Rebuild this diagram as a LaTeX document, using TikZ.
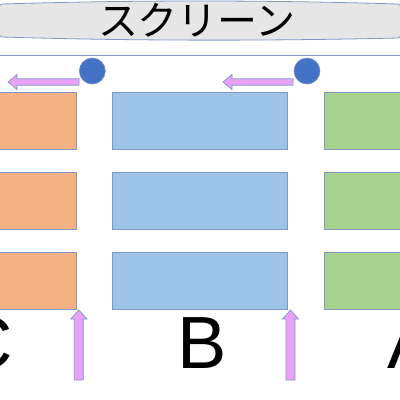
\documentclass[tikz,border=0pt]{standalone}
\usepackage{fontspec}
\setmainfont{Liberation Sans}
\newfontfamily\jpfont{Noto Sans CJK JP}
\definecolor{scrfill}{HTML}{E6E6E6}
\definecolor{edgeblue}{HTML}{7F98C8}
\definecolor{dotblue}{HTML}{4472C4}
\definecolor{arrowpink}{HTML}{E8A2F7}
\definecolor{seatorange}{HTML}{F4B183}
\definecolor{seatblue}{HTML}{9DC3E6}
\definecolor{seatgreen}{HTML}{A9D18E}
\begin{document}
\begin{tikzpicture}[x=1pt,y=-1pt,
  seat/.style={draw=edgeblue, line width=0.9pt, minimum height=57pt, inner sep=0pt, outer sep=0pt},
  dot/.style={circle, fill=dotblue, draw=dotblue!80!white, line width=0.6pt, minimum size=26pt, inner sep=0pt},
  blockarrow/.style={fill=arrowpink, draw=edgeblue, line width=0.7pt, line join=miter},
  rowlabel/.style={font=\fontsize{74}{74}\selectfont, inner sep=0pt, anchor=base}]
\useasboundingbox (0,0) rectangle (400,400);
\clip (0,0) rectangle (400,400);
% screen
\draw[fill=scrfill, draw=edgeblue, line width=0.8pt]
  (2,4) .. controls (133,0) and (267,0) .. (398,4)
  .. controls (406,5) and (406,37) .. (398,38)
  .. controls (267,41) and (133,41) .. (2,37)
  .. controls (-6,36) and (-6,5) .. (2,4) -- cycle;
\node[font=\jpfont\fontsize{40}{40}\selectfont, inner sep=0pt] (screen) at (197,20) {スクリーン};
% line
\draw[edgeblue, line width=0.9pt] (0,55) -- (400,55);
% seats
\foreach \r/\y in {1/120.5, 2/200.5, 3/280.5}{
  \node[seat, fill=seatorange, minimum width=96pt] (c\r) at (28.5,\y) {};
  \node[seat, fill=seatblue, minimum width=175.5pt] (b\r) at (200,\y) {};
  \node[seat, fill=seatgreen, minimum width=96pt] (a\r) at (372,\y) {};
}
% dots
\node[dot] (p1) at (92.3,71) {};
\node[dot] (p2) at (307,71) {};
% left arrows
\draw[blockarrow] (79,78.8) -- (17,78.8) -- (17,74.5) -- (8,82) -- (17,89.5) -- (17,85.2) -- (79,85.2) -- cycle;
\draw[blockarrow] (293,78.8) -- (232,78.8) -- (232,74.5) -- (223,82) -- (232,89.5) -- (232,85.2) -- (293,85.2) -- cycle;
% up arrows
\draw[blockarrow] (74.3,380) -- (74.3,319) -- (70.7,319) -- (78.8,310) -- (87,319) -- (83.3,319) -- (83.3,380) -- cycle;
\draw[blockarrow] (286,380) -- (286,319) -- (282.5,319) -- (290.5,310) -- (298.5,319) -- (295,319) -- (295,380) -- cycle;
% labels
\node[rowlabel] (lc) at (-14,368) {C};
\node[rowlabel] (lb) at (202,368) {B};
\node[rowlabel] (la) at (412,368) {A};
\end{tikzpicture}
\end{document}
